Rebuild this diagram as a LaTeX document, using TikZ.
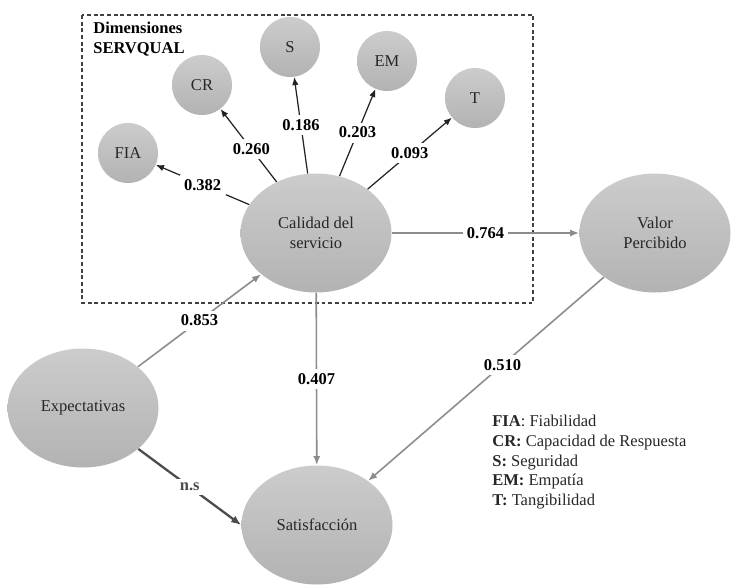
\documentclass[tikz,border=0pt]{standalone}
\usepackage{fontspec}
\setmainfont{Liberation Serif}
\usepackage{tikz}
\usetikzlibrary{shapes.geometric}
\usetikzlibrary{arrows.meta}
\definecolor{linegray}{HTML}{8C8C8C}
\definecolor{darkline}{HTML}{222222}
\newcommand{\txtsize}{\rmfamily\fontsize{9.4pt}{11.2pt}\selectfont}
\tikzset {
  every node/.style={font=\txtsize, text=black!85},
  % small circles for the SERVQUAL dimensions
  dim/.style = {circle, minimum size=1.2cm, inner sep=0pt, top color=gray!40, bottom color=gray!60},
  % large latent constructs
  construct/.style = {ellipse, minimum width=3.02cm, minimum height=2.38cm, inner sep=0pt, align=center, top color=gray!40, bottom color=gray!60},
  % loadings of the dimensions
  load/.style = {-{Latex[length=1.6mm, width=1.3mm]}, darkline, line width=0.7pt},
  % structural relations
  rel/.style = {-{Latex[length=1.8mm, width=1.4mm]}, linegray, line width=0.9pt},
  nsrel/.style = {-{Latex[length=2mm, width=1.6mm]}, black!70, line width=1.3pt},
  coef/.style = {fill=white, inner sep=2.5pt, text=black, font=\txtsize\bfseries},
}

\begin{document}
\begin{tikzpicture}
  \useasboundingbox (0, 0) rectangle (14.74, -11.74);

  % dimensions box
  \draw [black!75, line width=0.6pt, dash pattern=on 2.2pt off 1.6pt] (1.64, -0.30) rectangle (10.66, -6.06);
  \node[anchor=north west, align=left, inner sep=0pt, text=black, font=\txtsize\bfseries] (title) at (1.86, -0.44) {Dimensiones\\SERVQUAL};

  \node[dim] (fia) at (2.56, -3.06) {FIA};
  \node[dim] (cr) at (4.04, -1.70) {CR};
  \node[dim] (s) at (5.80, -0.94) {S};
  \node[dim] (em) at (7.74, -1.22) {EM};
  \node[dim] (t) at (9.50, -1.96) {T};

  \node[construct] (cal) at (6.32, -4.66) {Calidad del\\servicio};
  \node[construct] (val) at (13.10, -4.66) {Valor\\Percibido};
  \node[construct] (exp) at (1.66, -8.16) {Expectativas};
  \node[construct] (sat) at (6.34, -10.50) {Satisfacción};

  \draw [load] (cal) -- node[coef] {0.382} (fia);
  \draw [load] (cal) -- node[coef, pos=0.45] {0.260} (cr);
  \draw [load] (cal) -- node[coef] {0.186} (s);
  \draw [load] (cal) -- node[coef] {0.203} (em);
  \draw [load] (cal) -- node[coef] {0.093} (t);

  \draw [rel] (cal) -- node[coef] {0.764} (val);
  \draw [rel] (exp) -- node[coef] {0.853} (cal);
  \draw [rel] (cal) -- node[coef] {0.407} (sat);
  \draw [rel] (val) -- node[coef, pos=0.43] {0.510} (sat);
  \draw [nsrel] (exp) -- node[coef, text=black!70] {n.s} (sat.west);

  % legend
  \node[anchor=north west, align=left, inner sep=0pt] (legend) at (9.84, -8.30) {%
    \textbf{FIA}: Fiabilidad\\
    \textbf{CR:} Capacidad de Respuesta\\
    \textbf{S:} Seguridad\\
    \textbf{EM:} Empatía\\
    \textbf{T:} Tangibilidad};
\end{tikzpicture}
\end{document}
